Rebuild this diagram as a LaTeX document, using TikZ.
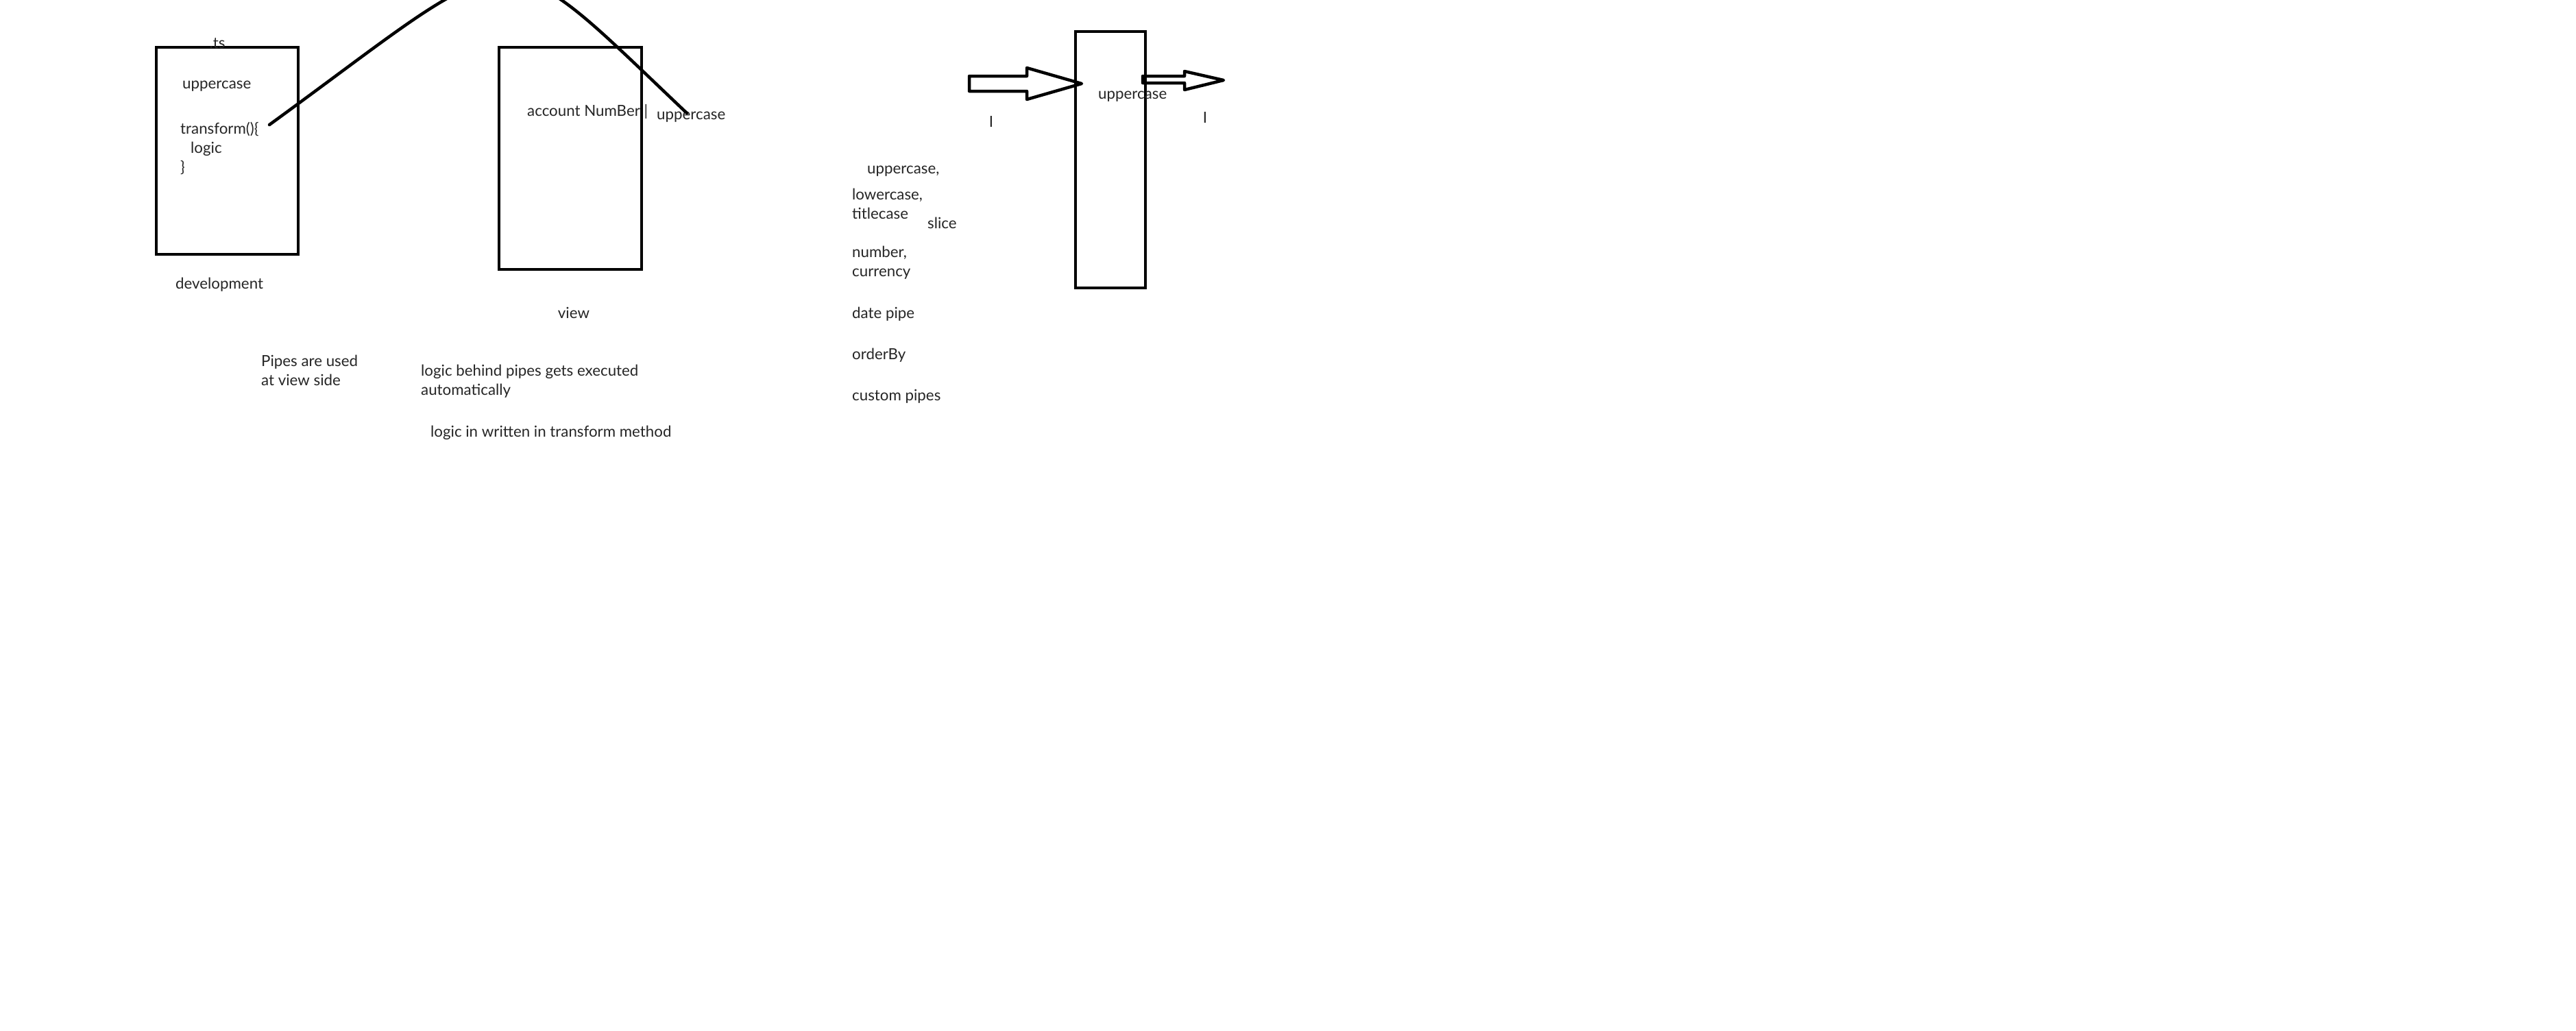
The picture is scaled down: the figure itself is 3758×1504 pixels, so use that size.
\documentclass[tikz,border=0pt]{standalone}
\usepackage{fontspec}
\setmainfont{Lato}
\definecolor{ink}{HTML}{262626}
\begin{document}
\begin{tikzpicture}[x=1pt,y=-1pt,
  box/.style={draw=black, line width=4.5pt, inner sep=0pt},
  txt/.style={text=ink, font=\fontsize{22.3pt}{28pt}\selectfont, inner sep=0pt, anchor=west, align=left, yshift=-3pt},
  link/.style={draw=black, line width=4.5pt, line cap=round},
  blockarrow/.style={draw=black, line width=4.5pt, line join=round}]
\useasboundingbox[fill=white] (0,0) rectangle (3758,1504);

% boxes
\node[box, minimum width=207pt, minimum height=302pt] (devbox) at (331.5,220) {};
\node[box, minimum width=208pt, minimum height=324pt] (viewbox) at (832,231) {};
\node[box, minimum width=102pt, minimum height=374pt] (pipebox) at (1620,233) {};

% development side
\node[txt, anchor=center] (ts) at (317,60) {.ts};
\node[txt] (devup) at (266,123) {uppercase};
\node[txt] (transform) at (263,213) {transform()\{\\\hspace*{15pt}logic\\\}};
\node[txt] (dev) at (256,412) {development};

% view side
\node[txt] (acc) at (769,160) {account NumBer |};
\node[txt] (viewup) at (958,168) {uppercase};
\node[txt, anchor=center] (view) at (837,453) {view};

% curve linking transform to the pipe in the view
\coordinate (cs) at (393,182);
\coordinate (ce) at (1002,165);
\draw[link] (cs) .. controls (770,-92) and (718,-104) .. (ce);

% notes
\node[txt] (n1) at (381,537) {Pipes are used\\at view side};
\node[txt] (n2) at (614,553) {logic behind pipes gets executed\\automatically};
\node[txt] (n3) at (628,628) {logic in written in transform method};

% list of pipes
\node[txt] (l1) at (1265,247) {uppercase,};
\node[txt] (l2) at (1243,294) {lowercase,\\titlecase};
\node[txt] (l3) at (1353,322) {slice};
\node[txt] (l4) at (1243,380) {number,\\currency};
\node[txt] (l5) at (1243,455) {date pipe};
\node[txt] (l6) at (1243,515) {orderBy};
\node[txt] (l7) at (1243,575) {custom pipes};

% pipe box with input/output block arrows
\node[txt] (pipeup) at (1602,138) {uppercase};
\draw[blockarrow] (1414,111) -- (1498,111) -- (1498,99) -- (1578,122) -- (1498,145) -- (1498,133) -- (1414,133) -- cycle;
\draw[blockarrow] (1667,111) -- (1728,111) -- (1728,104) -- (1785,117) -- (1728,131) -- (1728,121) -- (1667,121) -- cycle;
\node[txt, anchor=center] (inI) at (1446,175) {I};
\node[txt, anchor=center] (outI) at (1758,169) {I};
\end{tikzpicture}
\end{document}
